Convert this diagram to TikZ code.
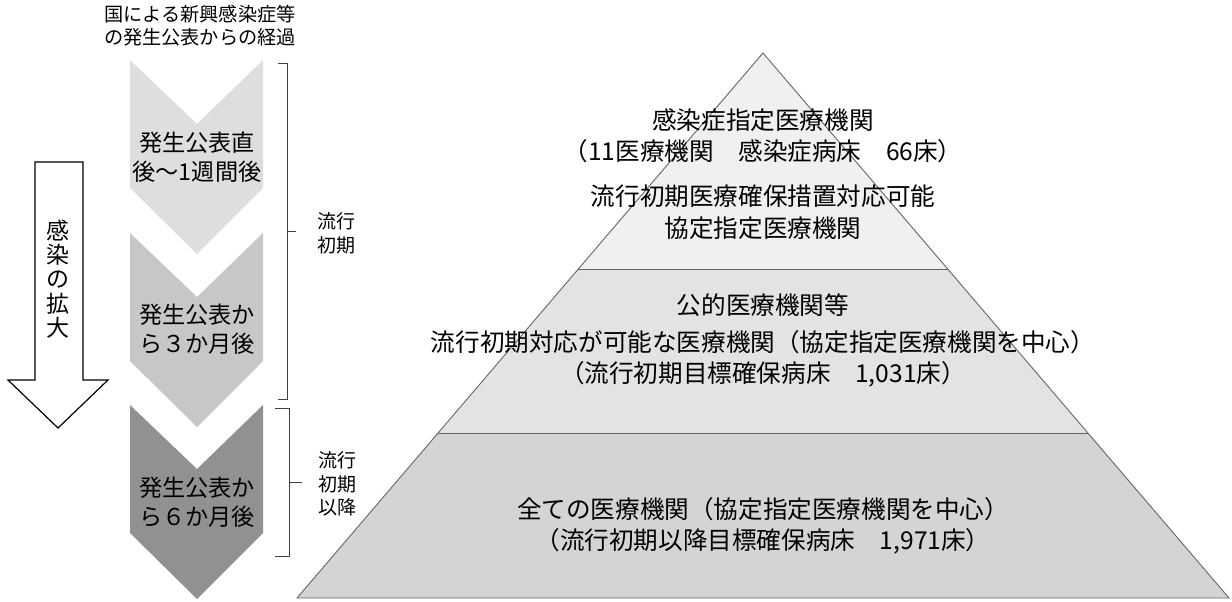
\documentclass[tikz,border=0pt]{standalone}
\usepackage{fontspec}
\setmainfont{Noto Sans CJK JP}
\usetikzlibrary{calc}
\definecolor{chevA}{gray}{0.87}
\definecolor{chevB}{gray}{0.78}
\definecolor{chevC}{gray}{0.57}
\definecolor{tierA}{gray}{0.94}
\definecolor{tierB}{gray}{0.89}
\definecolor{tierC}{gray}{0.83}

\begin{document}
\begin{tikzpicture}[x=0.5pt, y=-0.5pt,
    chevtext/.style={font=\fontsize{11.6}{14.5}\selectfont, align=center, inner sep=0pt},
    captext/.style={font=\fontsize{9.6}{11.5}\selectfont, align=center, inner sep=0pt},
    sidetext/.style={font=\fontsize{9.5}{11.8}\selectfont, align=center, inner sep=0pt},
    tiertext/.style={font=\fontsize{12.3}{15.7}\selectfont, align=center, inner sep=0pt},
    brk/.style={draw=black!75, line width=0.5pt},
    pyr/.style={draw=black!60, line width=0.45pt},
    bigarrow/.style={draw=black, line width=0.6pt, fill=white, line join=miter}]
  \useasboundingbox (0,0) rectangle (1232,601);

  % elapsed time chevrons
  \node[captext] (cap) at (200,26) {国による新興感染症等\\の発生公表からの経過};
  \foreach \yt/\col in {60/chevA, 233/chevB, 405/chevC}
    \fill[\col] (130,\yt) -- (197,{\yt+64}) -- (263,\yt) -- (263,{\yt+128})
      -- (197,{\yt+194}) -- (130,{\yt+128}) -- cycle;
  \node[chevtext] (ch1) at (197,157) {発生公表直\\後～1週間後};
  \node[chevtext] (ch2) at (197,329) {発生公表か\\ら３か月後};
  \node[chevtext] (ch3) at (197,502) {発生公表か\\ら６か月後};

  % brackets
  \draw[brk] (278,63) -- (287,63) -- (287,399) -- (278,399);
  \draw[brk] (287,231) -- (296,231);
  \draw[brk] (275,408) -- (289,408) -- (289,556) -- (275,556);
  \draw[brk] (289,482) -- (302,482);
  \node[sidetext] (early) at (336,233) {流行\\初期};
  \node[sidetext] (later) at (337,484) {流行\\初期\\以降};

  % spread arrow
  \draw[bigarrow] (35,162) -- (83,162) -- (83,380) -- (108,380) -- (58,428)
    -- (8,380) -- (35,380) -- cycle;
  \node[font=\fontsize{11.5}{12.2}\selectfont, align=center, inner sep=0pt]
    (spread) at (58,279) {感\\染\\の\\拡\\大};

  % pyramid
  \coordinate (apex) at (763,53);
  \coordinate (bl) at (297,598);
  \coordinate (br) at (1229,598);
  \coordinate (l1) at ($(apex)!0.3963!(bl)$);
  \coordinate (r1) at ($(apex)!0.3963!(br)$);
  \coordinate (l2) at ($(apex)!0.6972!(bl)$);
  \coordinate (r2) at ($(apex)!0.6972!(br)$);
  \fill[tierA] (apex) -- (r1) -- (l1) -- cycle;
  \fill[tierB] (l1) -- (r1) -- (r2) -- (l2) -- cycle;
  \fill[tierC] (l2) -- (r2) -- (br) -- (bl) -- cycle;
  \draw[pyr] (apex) -- (br) -- (bl) -- cycle;
  \draw[pyr] (l1) -- (r1);
  \draw[pyr] (l2) -- (r2);

  \node[tiertext] (t1) at (763,136) {感染症指定医療機関\\（11医療機関　感染症病床　66床）};
  \node[tiertext] (t2) at (763,212) {流行初期医療確保措置対応可能\\協定指定医療機関};
  \node[tiertext] (t3) at (763,305) {公的医療機関等};
  \node[tiertext] (t4) at (763,359) {流行初期対応が可能な医療機関（協定指定医療機関を中心）\\（流行初期目標確保病床　1,031床）};
  \node[tiertext] (t5) at (763,526) {全ての医療機関（協定指定医療機関を中心）\\（流行初期以降目標確保病床　1,971床）};
\end{tikzpicture}
\end{document}
